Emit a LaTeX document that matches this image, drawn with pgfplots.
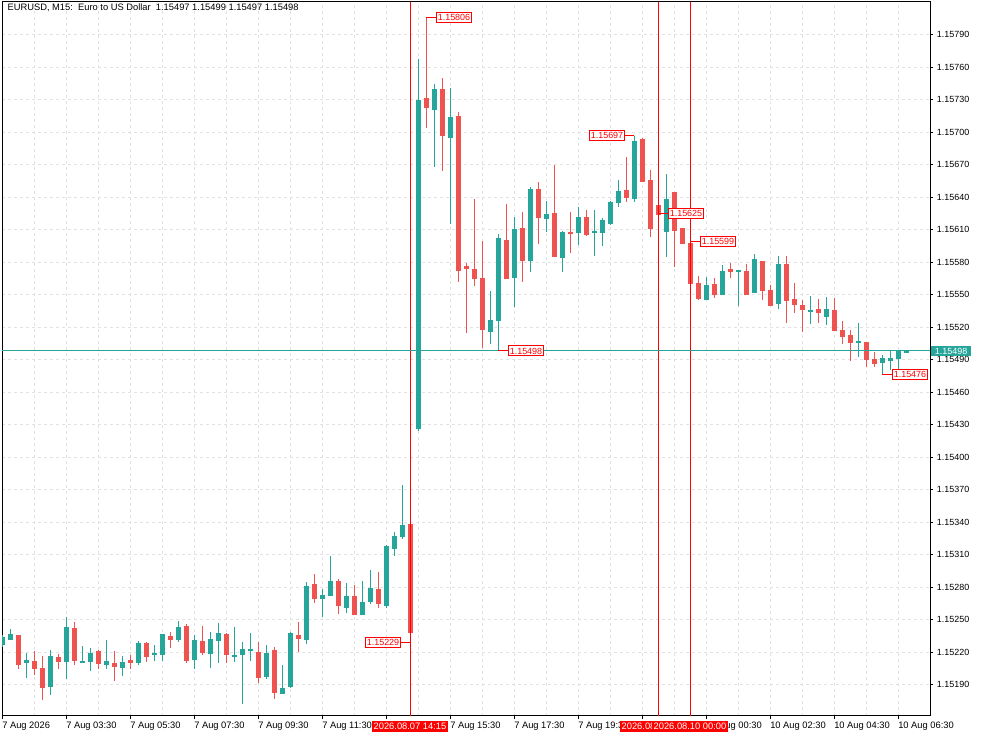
\documentclass[border=0pt]{standalone}
\usepackage{pgfplots}
\pgfplotsset{compat=1.18}
\usepackage{pgfplotstable}
\usepackage{fontspec}
\setmainfont{Liberation Sans}
\definecolor{cgreen}{HTML}{26A69A}
\definecolor{cred}{HTML}{EF5350}
\definecolor{gridc}{HTML}{E2E2E2}

\pgfplotstableread{
i O H L C
0 1.15227 1.15236 1.15225 1.15234
1 1.15232 1.15241 1.15231 1.15237
3 1.15210 1.15220 1.15197 1.15213
6 1.15188 1.15223 1.15181 1.15217
8 1.15211 1.15253 1.15196 1.15243
10 1.15212 1.15226 1.15210 1.15213
11 1.15212 1.15225 1.15204 1.15220
13 1.15208 1.15232 1.15205 1.15212
15 1.15207 1.15216 1.15198 1.15212
17 1.15211 1.15231 1.15209 1.15230
19 1.15217 1.15227 1.15212 1.15219
20 1.15218 1.15237 1.15212 1.15237
22 1.15232 1.15249 1.15230 1.15244
24 1.15213 1.15237 1.15205 1.15232
26 1.15219 1.15239 1.15206 1.15233
27 1.15231 1.15247 1.15210 1.15238
29 1.15216 1.15244 1.15211 1.15218
30 1.15218 1.15230 1.15173 1.15224
31 1.15222 1.15239 1.15213 1.15223
33 1.15198 1.15227 1.15196 1.15220
35 1.15182 1.15209 1.15182 1.15188
36 1.15188 1.15239 1.15187 1.15238
38 1.15232 1.15285 1.15227 1.15282
40 1.15269 1.15279 1.15253 1.15273
41 1.15273 1.15309 1.15272 1.15287
43 1.15262 1.15283 1.15256 1.15273
45 1.15255 1.15286 1.15254 1.15267
46 1.15266 1.15297 1.15266 1.15279
48 1.15263 1.15319 1.15261 1.15318
49 1.15316 1.15331 1.15309 1.15328
50 1.15328 1.15375 1.15325 1.15339
52 1.15427 1.15769 1.15426 1.15731
54 1.15721 1.15745 1.15669 1.15741
56 1.15696 1.15742 1.15616 1.15715
61 1.15517 1.15554 1.15505 1.15528
62 1.15526 1.15606 1.15498 1.15603
64 1.15566 1.15623 1.15540 1.15611
66 1.15582 1.15649 1.15571 1.15648
68 1.15621 1.15637 1.15608 1.15625
70 1.15584 1.15609 1.15571 1.15608
72 1.15608 1.15631 1.15596 1.15623
74 1.15608 1.15628 1.15586 1.15609
75 1.15608 1.15622 1.15596 1.15620
76 1.15616 1.15637 1.15615 1.15636
77 1.15635 1.15657 1.15632 1.15646
79 1.15638 1.15697 1.15636 1.15692
83 1.15609 1.15662 1.15586 1.15640
88 1.15546 1.15567 1.15546 1.15560
90 1.15551 1.15577 1.15551 1.15573
92 1.15571 1.15573 1.15540 1.15573
94 1.15551 1.15587 1.15551 1.15583
97 1.15541 1.15586 1.15537 1.15578
101 1.15535 1.15550 1.15524 1.15537
103 1.15530 1.15549 1.15523 1.15537
107 1.15505 1.15525 1.15493 1.15507
110 1.15488 1.15494 1.15476 1.15492
111 1.15490 1.15498 1.15481 1.15493
112 1.15491 1.15498 1.15481 1.15498
113 1.15497 1.15499 1.15497 1.15498
}\greentab

\pgfplotstableread{
i O H L C
2 1.15236 1.15238 1.15206 1.15209
4 1.15212 1.15222 1.15200 1.15205
5 1.15206 1.15217 1.15176 1.15187
7 1.15216 1.15219 1.15205 1.15212
9 1.15242 1.15248 1.15209 1.15212
12 1.15221 1.15223 1.15205 1.15209
14 1.15211 1.15222 1.15194 1.15207
16 1.15213 1.15219 1.15206 1.15210
18 1.15230 1.15231 1.15212 1.15217
21 1.15235 1.15239 1.15224 1.15231
23 1.15245 1.15247 1.15211 1.15212
25 1.15231 1.15246 1.15219 1.15220
28 1.15237 1.15238 1.15210 1.15218
32 1.15221 1.15230 1.15192 1.15197
34 1.15222 1.15225 1.15177 1.15183
37 1.15237 1.15249 1.15222 1.15233
39 1.15284 1.15293 1.15266 1.15270
42 1.15286 1.15288 1.15256 1.15263
44 1.15273 1.15282 1.15254 1.15255
47 1.15279 1.15294 1.15261 1.15265
51 1.15339 1.15340 1.15229 1.15239
53 1.15732 1.15806 1.15704 1.15723
55 1.15740 1.15751 1.15665 1.15697
57 1.15715 1.15720 1.15563 1.15572
58 1.15576 1.15581 1.15516 1.15574
59 1.15574 1.15638 1.15558 1.15564
60 1.15566 1.15600 1.15501 1.15518
63 1.15601 1.15635 1.15565 1.15565
65 1.15612 1.15628 1.15563 1.15582
67 1.15648 1.15654 1.15597 1.15621
69 1.15626 1.15670 1.15585 1.15586
71 1.15609 1.15627 1.15589 1.15607
73 1.15622 1.15629 1.15605 1.15605
78 1.15647 1.15677 1.15636 1.15640
80 1.15695 1.15695 1.15654 1.15655
81 1.15656 1.15665 1.15604 1.15611
82 1.15634 1.15635 1.15625 1.15625
84 1.15645 1.15645 1.15576 1.15609
85 1.15612 1.15612 1.15598 1.15598
86 1.15599 1.15599 1.15560 1.15561
87 1.15561 1.15568 1.15545 1.15546
89 1.15561 1.15566 1.15548 1.15551
91 1.15574 1.15579 1.15565 1.15571
93 1.15572 1.15578 1.15550 1.15550
95 1.15581 1.15581 1.15546 1.15553
96 1.15555 1.15559 1.15540 1.15540
98 1.15579 1.15586 1.15524 1.15545
99 1.15546 1.15562 1.15534 1.15541
100 1.15541 1.15546 1.15517 1.15536
102 1.15537 1.15546 1.15524 1.15533
104 1.15537 1.15547 1.15517 1.15517
105 1.15518 1.15526 1.15505 1.15511
106 1.15513 1.15517 1.15489 1.15505
108 1.15507 1.15507 1.15484 1.15490
109 1.15491 1.15499 1.15485 1.15486
}\redtab

\begin{document}
\begin{tikzpicture}[font=\fontsize{7}{8}\selectfont,
  plabel/.style={draw=red, fill=white, text=red, line width=0.75pt, inner xsep=1pt, inner ysep=0pt,
    minimum height=7.5pt, text height=4.9pt, text depth=0pt, font=\fontsize{6.7}{7}\selectfont},
  tlabel/.style={fill=red, text=white, inner xsep=1.3pt, inner ysep=0pt, minimum height=7.9pt,
    text height=5pt, text depth=0pt, font=\fontsize{7}{8}\selectfont}]
\path[use as bounding box] (0,0) rectangle (737.25pt,-552.75pt);
\begin{axis}[
  at={(1.5pt,-1.5pt)}, anchor=north west,
  scale only axis, width=696pt, height=535.5pt,
  xmin=0, xmax=116, ymin=1.15161, ymax=1.15820,
  axis line style={black, line width=0.75pt},
  tick align=outside, major tick length=2.6pt, minor tick length=0pt,
  xtick pos=left, ytick pos=right,
  xticklabel pos=left, yticklabel pos=right,
  xtick={0,8,...,112},
  xticklabels={7 Aug 2026, 7 Aug 03:30, 7 Aug 05:30, 7 Aug 07:30, 7 Aug 09:30, 7 Aug 11:30, {}, 7 Aug 15:30, 7 Aug 17:30, 7 Aug 19:30, {}, 10 Aug 00:30, 10 Aug 02:30, 10 Aug 04:30, 10 Aug 06:30},
  minor xtick={4,12,...,116},
  ytick={1.15190,1.15220,1.15250,1.15280,1.15310,1.15340,1.15370,1.15400,1.15430,1.15460,1.15490,1.15520,1.15550,1.15580,1.15610,1.15640,1.15670,1.15700,1.15730,1.15760,1.15790},
  yticklabels={1.15190,1.15220,1.15250,1.15280,1.15310,1.15340,1.15370,1.15400,1.15430,1.15460,1.15490,1.15520,1.15550,1.15580,1.15610,1.15640,1.15670,1.15700,1.15730,1.15760,1.15790},
  scaled y ticks=false,
  xmajorgrids, xminorgrids, ymajorgrids,
  major grid style={gridc, line width=0.75pt, dash pattern=on 2.25pt off 2.25pt},
  minor grid style={gridc, line width=0.75pt, dash pattern=on 2.25pt off 2.25pt},
  tick style={black, line width=0.75pt},
  xticklabel style={anchor=north west, inner sep=0pt, font=\fontsize{7}{8}\selectfont, yshift=-1.9pt},
  yticklabel style={anchor=west, inner sep=0pt, font=\fontsize{6.7}{8}\selectfont, xshift=2.4pt},
  /pgf/number format/assume math mode=true,
]
% green wicks and bodies
\addplot[draw=none, mark=none, forget plot,
  error bars/.cd, y dir=both, y explicit, error mark=none,
  error bar style={draw=cgreen, line width=0.75pt}]
  table[x=i, y expr={(\thisrow{H}+\thisrow{L})/2}, y error expr={(\thisrow{H}-\thisrow{L})/2}] {\greentab};
\addplot[draw=none, mark=none, forget plot,
  error bars/.cd, y dir=both, y explicit, error mark=none,
  error bar style={draw=cgreen, line width=3.75pt}]
  table[x=i, y expr={(\thisrow{O}+\thisrow{C})/2}, y error expr={max(abs(\thisrow{C}-\thisrow{O})/2,0.0000046)}] {\greentab};
% red wicks and bodies
\addplot[draw=none, mark=none, forget plot,
  error bars/.cd, y dir=both, y explicit, error mark=none,
  error bar style={draw=cred, line width=0.75pt}]
  table[x=i, y expr={(\thisrow{H}+\thisrow{L})/2}, y error expr={(\thisrow{H}-\thisrow{L})/2}] {\redtab};
\addplot[draw=none, mark=none, forget plot,
  error bars/.cd, y dir=both, y explicit, error mark=none,
  error bar style={draw=cred, line width=3.75pt}]
  table[x=i, y expr={(\thisrow{O}+\thisrow{C})/2}, y error expr={max(abs(\thisrow{C}-\thisrow{O})/2,0.0000046)}] {\redtab};
% vertical lines
\addplot[red, line width=0.75pt, forget plot] coordinates {(51,1.15161) (51,1.15820)};
\addplot[red, line width=0.75pt, forget plot] coordinates {(82,1.15161) (82,1.15820)};
\addplot[red, line width=0.75pt, forget plot] coordinates {(86,1.15161) (86,1.15820)};
% current price line
\addplot[cgreen, line width=0.75pt, forget plot] coordinates {(0,1.15498) (116,1.15498)};
\coordinate (h53) at (axis cs:53,1.15806);
\coordinate (l62) at (axis cs:62,1.15498);
\coordinate (l51) at (axis cs:51,1.15229);
\coordinate (h79) at (axis cs:79,1.15697);
\coordinate (l82) at (axis cs:82,1.15625);
\coordinate (h86) at (axis cs:86,1.15599);
\coordinate (l110) at (axis cs:110,1.15476);
\coordinate (v51) at (axis cs:51,1.15161);
\coordinate (v82) at (axis cs:82,1.15161);
\coordinate (v86) at (axis cs:86,1.15161);
\coordinate (pc) at (axis cs:116,1.15498);
\end{axis}
% title
\node[anchor=base west, inner sep=0pt] at (5.5pt,-7.9pt) {EURUSD, M15:\ \ Euro to US Dollar\ \ 1.15497 1.15499 1.15497 1.15498};
% high/low labels
\draw[red, line width=0.75pt] (h53) -- ++(7.5pt,0) node[plabel, anchor=west] {1.15806};
\draw[red, line width=0.75pt] (l62) -- ++(7.5pt,0) node[plabel, anchor=west] {1.15498};
\draw[red, line width=0.75pt] (l51) -- ++(-6.75pt,0) node[plabel, anchor=east] {1.15229};
\draw[red, line width=0.75pt] (h79) -- ++(-6.75pt,0) node[plabel, anchor=east] {1.15697};
\draw[red, line width=0.75pt] (l82) -- ++(7.5pt,0) node[plabel, anchor=west] {1.15625};
\draw[red, line width=0.75pt] (h86) -- ++(7.5pt,0) node[plabel, anchor=west] {1.15599};
\draw[red, line width=0.75pt] (l110) -- ++(7.5pt,0) node[plabel, anchor=west] {1.15476};
% time labels
\node[tlabel, anchor=north] at ([yshift=-3.75pt]v51) {2026.08.07 14:15};
\node[tlabel, anchor=north] at ([yshift=-3.75pt]v82) {2026.08.07 22:00};
\node[tlabel, anchor=north] at ([yshift=-3.75pt]v86) {2026.08.10 00:00};
% current price label
\node[fill=cgreen, text=white, anchor=west, inner xsep=2.6pt, inner ysep=0pt, minimum height=7.2pt,
  text height=4.9pt, text depth=0pt, font=\fontsize{6.7}{7}\selectfont] at ([xshift=0.9pt]pc) {1.15498};
\end{tikzpicture}
\end{document}
